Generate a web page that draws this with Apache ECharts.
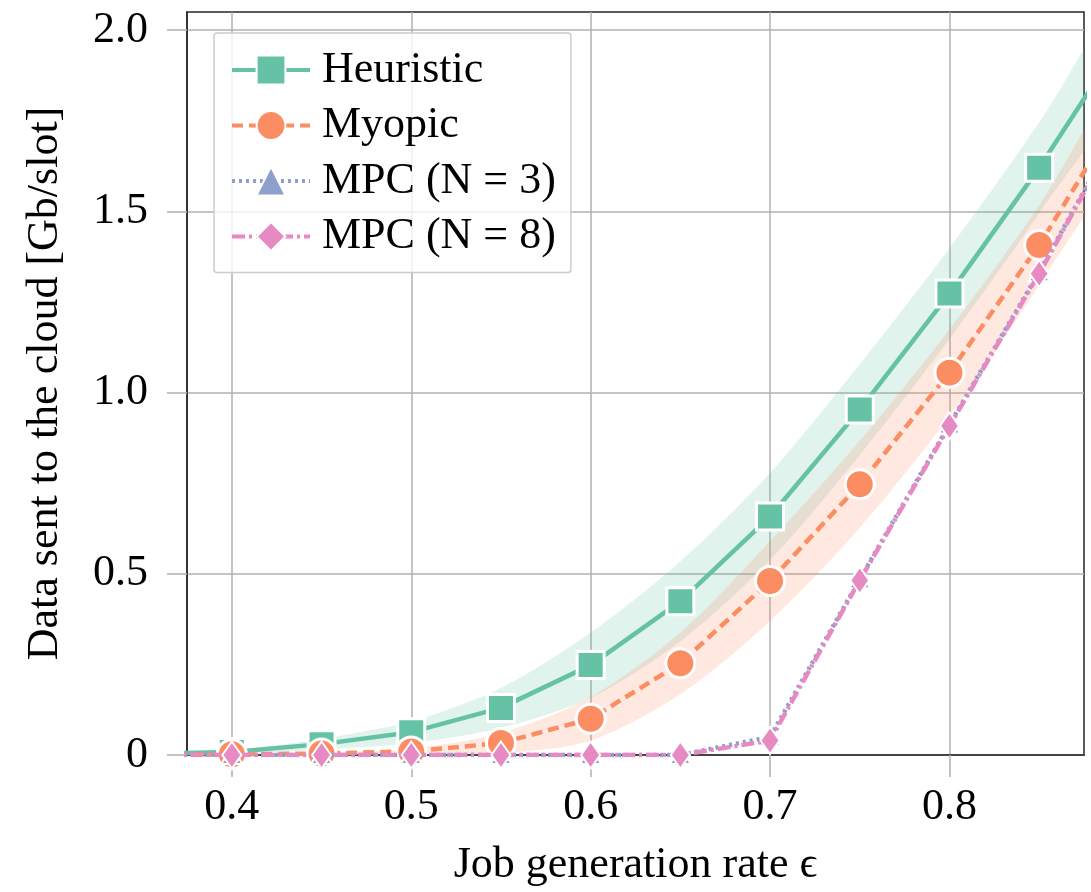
<!DOCTYPE html>
<html>
<head>
<meta charset="utf-8">
<script src="https://cdn.jsdelivr.net/npm/echarts@6/dist/echarts.min.js"></script>
<style>
html,body{margin:0;padding:0;background:#fff;}
#chart{width:1091px;height:892px;}
</style>
</head>
<body>
<div id="chart"></div>
<script>
// ---- data ----
const xValues = [0.35, 0.4, 0.45, 0.5, 0.55, 0.6, 0.65, 0.7, 0.75, 0.8, 0.85, 0.9];
const heuristicMean = [0.003, 0.008, 0.03, 0.063, 0.13, 0.248, 0.424, 0.658, 0.953, 1.273, 1.62, 2.0];
const heuristicStd  = [0.002, 0.005, 0.015, 0.03, 0.055, 0.09, 0.11, 0.12, 0.125, 0.125, 0.125, 0.125];
const myopicMean = [0, 0.002, 0.004, 0.01, 0.033, 0.10, 0.253, 0.48, 0.747, 1.055, 1.407, 1.81];
const myopicStd  = [0, 0.001, 0.003, 0.008, 0.028, 0.06, 0.085, 0.11, 0.12, 0.12, 0.11, 0.1];
const mpc3Mean = [0, 0, 0, 0, 0, 0, 0, 0.05, 0.485, 0.912, 1.332, 1.78];
const mpc8Mean = [0, 0, 0, 0, 0, 0, 0, 0.04, 0.482, 0.908, 1.328, 1.775];
const xTickValues = [0.4, 0.5, 0.6, 0.7, 0.8];
const yTickValues = [0, 0.5, 1.0, 1.5, 2.0];
const seriesNames = ['Heuristic', 'Myopic', 'MPC (N = 3)', 'MPC (N = 8)'];

const FONT = '"Liberation Serif", "Times New Roman", serif';
const C_H = '#66c2a5', C_M = '#fc8d62', C_3 = '#8da0cb', C_8 = '#e78ac3';

const pairs = (ys) => xValues.map((x, i) => [x, ys[i]]);

// shaded band (mean ± std) drawn as a polygon through the axis scales
const bandSeries = (m, s, color) => ({
  type: 'custom', silent: true, clip: true, z: 1, legendHoverLink: false,
  data: [[xValues[0], m[0]]],
  renderItem: (params, api) => {
    const up = xValues.map((x, i) => api.coord([x, m[i] + s[i]]));
    const lo = xValues.map((x, i) => api.coord([x, m[i] - s[i]])).reverse();
    return { type: 'polygon', shape: { points: up.concat(lo), smooth: 0.3 }, style: { fill: color }, silent: true };
  }
});

const chart = echarts.init(document.getElementById('chart'), null, { renderer: 'canvas' });
const gridColor = '#b0b0b0';
const LW = 4.5;

chart.setOption({
  animation: false,
  backgroundColor: '#fff',
  textStyle: { fontFamily: FONT },
  grid: { left: 187, right: 7, top: 12, bottom: 137, show: true,
          borderColor: '#262626', borderWidth: 1.5, backgroundColor: 'transparent' },
  xAxis: {
    type: 'value', min: 0.375, max: 0.875,
    name: 'Job generation rate \u03f5', nameLocation: 'middle', nameGap: 88,
    nameTextStyle: { fontFamily: FONT, fontSize: 44, color: '#000' },
    axisLine: { show: true, onZero: false, lineStyle: { color: '#262626', width: 1.5 } },
    axisTick: { show: true, customValues: xTickValues, length: 22, lineStyle: { color: gridColor, width: 1.5 } },
    axisLabel: { customValues: xTickValues, margin: 30, fontFamily: FONT, fontSize: 44, color: '#000',
                 formatter: (v) => v.toFixed(1) },
    splitLine: { show: true, customValues: xTickValues, lineStyle: { color: gridColor, width: 1.5 } }
  },
  yAxis: {
    type: 'value', min: 0, max: 2.05,
    name: 'Data sent to the cloud [Gb/slot]', nameLocation: 'middle', nameGap: 120,
    nameTextStyle: { fontFamily: FONT, fontSize: 44, color: '#000' },
    axisLine: { show: true, lineStyle: { color: '#262626', width: 1.5 } },
    axisTick: { show: true, customValues: yTickValues, length: 20, lineStyle: { color: gridColor, width: 1.5 } },
    axisLabel: { customValues: yTickValues, margin: 39, fontFamily: FONT, fontSize: 44, color: '#000',
                 formatter: (v) => v === 0 ? '0' : v.toFixed(1) },
    splitLine: { show: true, customValues: yTickValues, lineStyle: { color: gridColor, width: 1.5 } }
  },
  legend: {
    data: seriesNames,
    orient: 'vertical', left: 214, top: 33,
    padding: [15, 15, 14, 16], itemGap: 11.5,
    itemWidth: 78, itemHeight: 36,
    backgroundColor: 'rgba(255,255,255,0.8)', borderColor: '#cccccc', borderWidth: 1.5, borderRadius: 3,
    textStyle: { fontFamily: FONT, fontSize: 44, color: '#000', lineHeight: 44, padding: [0, 0, 0, 7] },
    lineStyle: { width: 4 },
    selectedMode: false
  },
  series: [
    bandSeries(heuristicMean, heuristicStd, 'rgba(102,194,165,0.2)'),
    bandSeries(myopicMean, myopicStd, 'rgba(252,141,98,0.2)'),
    { name: seriesNames[0], type: 'line', data: pairs(heuristicMean), z: 3,
      symbol: 'rect', symbolSize: 27,
      lineStyle: { color: C_H, width: LW },
      itemStyle: { color: C_H, borderColor: '#fff', borderWidth: 3 } },
    { name: seriesNames[1], type: 'line', data: pairs(myopicMean), z: 4,
      symbol: 'circle', symbolSize: 29,
      lineStyle: { color: C_M, width: LW, type: [11, 6] },
      itemStyle: { color: C_M, borderColor: '#fff', borderWidth: 3 } },
    { name: seriesNames[2], type: 'line', data: pairs(mpc3Mean), z: 5,
      symbol: 'triangle', symbolSize: [21, 18],
      lineStyle: { color: C_3, width: LW, type: [3, 4] },
      itemStyle: { color: C_3, borderColor: '#fff', borderWidth: 2 } },
    { name: seriesNames[3], type: 'line', data: pairs(mpc8Mean), z: 6,
      symbol: 'diamond', symbolSize: [19, 27],
      lineStyle: { color: C_8, width: LW, type: [13, 4, 3, 4] },
      itemStyle: { color: C_8, borderColor: '#fff', borderWidth: 2 } }
  ]
});
</script>
</body>
</html>
